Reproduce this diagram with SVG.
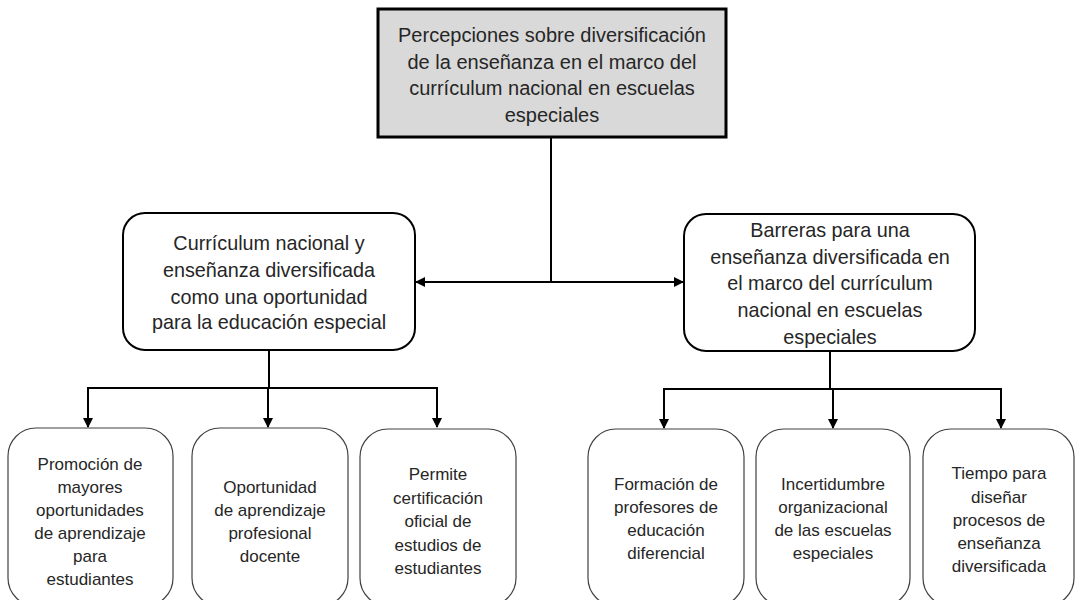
<svg xmlns="http://www.w3.org/2000/svg" width="1075" height="600" viewBox="0 0 1075 600">
<style>
text{font-family:"Liberation Sans",Arial,sans-serif;fill:#262626;text-anchor:middle}
.t1{font-size:20px}
.t2{font-size:19.8px}
.t3{font-size:17px}
.mid{fill:#fff;stroke:#000;stroke-width:2}
.leaf{fill:#fff;stroke:#404040;stroke-width:1.2}
.con{fill:none;stroke:#000;stroke-width:2}
</style>
<defs>
<marker id="ah" markerWidth="10" markerHeight="10" refX="9" refY="5" orient="auto" markerUnits="userSpaceOnUse">
<path d="M0,0 L10,5 L0,10 Z" fill="#000"/>
</marker>
</defs>
<rect width="1075" height="600" fill="#fff"/>
<g id="connectors">
<path class="con" d="M551,137 V282"/>
<path class="con" d="M551,282 H416" marker-end="url(#ah)"/>
<path class="con" d="M551,282 H683" marker-end="url(#ah)"/>
<path class="con" d="M269,350 V388"/>
<path class="con" d="M88,388 H437"/>
<path class="con" d="M88,387 V427" marker-end="url(#ah)"/>
<path class="con" d="M268,388 V427" marker-end="url(#ah)"/>
<path class="con" d="M437,387 V427" marker-end="url(#ah)"/>
<path class="con" d="M830,351 V389"/>
<path class="con" d="M664,389 H1001"/>
<path class="con" d="M664,388 V428" marker-end="url(#ah)"/>
<path class="con" d="M833,389 V428" marker-end="url(#ah)"/>
<path class="con" d="M1001,388 V428" marker-end="url(#ah)"/>
</g>
<g id="root">
<rect x="378" y="9" width="348" height="128" fill="#d9d9d9" stroke="#000" stroke-width="3"/>
<text class="t1" x="552" y="42">Percepciones sobre diversificación</text>
<text class="t1" x="552" y="69">de la enseñanza en el marco del</text>
<text class="t1" x="552" y="95">currículum nacional en escuelas</text>
<text class="t1" x="552" y="122">especiales</text>
</g>
<g id="n-oportunidad">
<rect class="mid" x="123" y="213" width="292" height="137" rx="22"/>
<text class="t2" x="269" y="250">Currículum nacional y</text>
<text class="t2" x="269" y="277">enseñanza diversificada</text>
<text class="t2" x="269" y="304">como una oportunidad</text>
<text class="t2" x="269" y="329">para la educación especial</text>
</g>
<g id="n-barreras">
<rect class="mid" x="684" y="214" width="291" height="137" rx="22"/>
<text class="t2" x="830" y="237">Barreras para una</text>
<text class="t2" x="830" y="264">enseñanza diversificada en</text>
<text class="t2" x="830" y="290">el marco del currículum</text>
<text class="t2" x="830" y="317">nacional en escuelas</text>
<text class="t2" x="830" y="344">especiales</text>
</g>
<g id="n-promocion">
<rect class="leaf" x="8" y="428" width="165" height="178" rx="28"/>
<text class="t3" x="90" y="470">Promoción de</text>
<text class="t3" x="90" y="493">mayores</text>
<text class="t3" x="90" y="516">oportunidades</text>
<text class="t3" x="90" y="539">de aprendizaje</text>
<text class="t3" x="90" y="562">para</text>
<text class="t3" x="90" y="585">estudiantes</text>
</g>
<g id="n-aprendizaje">
<rect class="leaf" x="192" y="428" width="156" height="178" rx="28"/>
<text class="t3" x="270" y="493">Oportunidad</text>
<text class="t3" x="270" y="516">de aprendizaje</text>
<text class="t3" x="270" y="539">profesional</text>
<text class="t3" x="270" y="562">docente</text>
</g>
<g id="n-certificacion">
<rect class="leaf" x="360" y="429" width="156" height="177" rx="28"/>
<text class="t3" x="438" y="480">Permite</text>
<text class="t3" x="438" y="504">certificación</text>
<text class="t3" x="438" y="527">oficial de</text>
<text class="t3" x="438" y="551">estudios de</text>
<text class="t3" x="438" y="574">estudiantes</text>
</g>
<g id="n-formacion">
<rect class="leaf" x="588" y="429" width="156" height="177" rx="28"/>
<text class="t3" x="666" y="490">Formación de</text>
<text class="t3" x="666" y="513">profesores de</text>
<text class="t3" x="666" y="536">educación</text>
<text class="t3" x="666" y="559">diferencial</text>
</g>
<g id="n-incertidumbre">
<rect class="leaf" x="756" y="429" width="154" height="177" rx="28"/>
<text class="t3" x="833" y="490">Incertidumbre</text>
<text class="t3" x="833" y="513">organizacional</text>
<text class="t3" x="833" y="536">de las escuelas</text>
<text class="t3" x="833" y="559">especiales</text>
</g>
<g id="n-tiempo">
<rect class="leaf" x="923" y="429" width="151" height="177" rx="28"/>
<text class="t3" x="999" y="479">Tiempo para</text>
<text class="t3" x="999" y="503">diseñar</text>
<text class="t3" x="999" y="526">procesos de</text>
<text class="t3" x="999" y="549">enseñanza</text>
<text class="t3" x="999" y="572">diversificada</text>
</g>
</svg>
